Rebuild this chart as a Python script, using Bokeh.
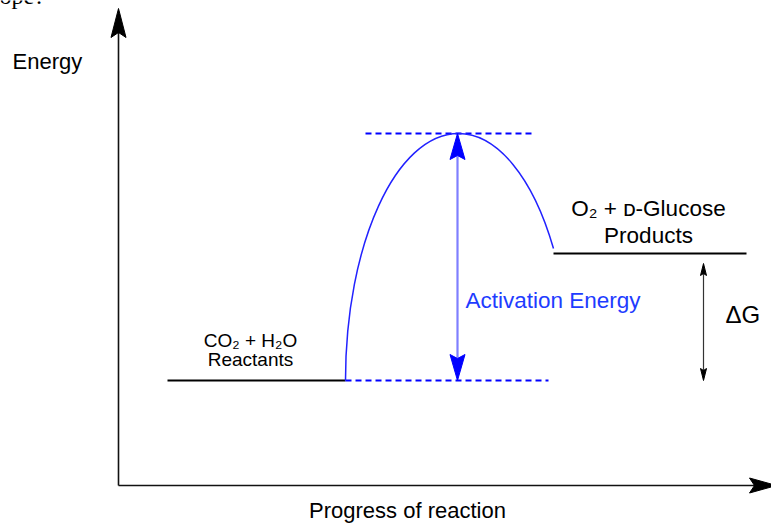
import math
from bokeh.plotting import figure
from bokeh.models import Range1d, ColumnDataSource
from bokeh.core.properties import value
from bokeh.embed import file_html
from bokeh.resources import INLINE

# ---- diagram data (progress / energy units, 1 unit = 1 px) ----
reactant_energy = 105
product_energy = 232
transition_energy = 352
transition_progress = 340
reactant_span = [49, 227]
product_span = [435, 628]
curve_end = [435, 237]          # where the barrier curve meets the product side
lower_dash_span = [227, 430]
upper_dash_span = [247, 413]
activation_x = 339
dg_x = 585
dg_span = [105, 222]
axis_top = 477
axis_right = 658

labels_text = ["Energy", "Progress of reaction", "Activation Energy",
               "CO\u2082 + H\u2082O", "Reactants", "O\u2082 + \u1d05-Glucose",
               "Products", "\u0394G", "ope?"]
labels_x = [-106, 289, 347, 132, 132, 530, 530, 607, -119]
labels_y = [424, -25, 185, 145, 126, 277, 250, 171, 490]
labels_align = ["left", "center", "left", "center", "center", "center", "center", "left", "left"]
labels_size = ["22px", "22px", "22.5px", "19px", "19px", "22.5px", "22.5px", "24px", "24px"]
labels_color = ["black", "black", "#1e3cff", "black", "black", "black", "black", "black", "black"]
labels_font = ["Liberation Sans"] * 8 + ["Liberation Serif"]

p = figure(width=771, height=523, output_backend="svg", toolbar_location=None,
           x_range=Range1d(-118, 653), y_range=Range1d(-38, 485),
           min_border=0, x_axis_location=None, y_axis_location=None)
p.grid.visible = False
p.outline_line_color = None
p.background_fill_color = "white"
p.border_fill_color = "white"


def vee(tx, ty, dx, dy, L, W, N):
    bx, by = tx - L * dx, ty - L * dy
    nx, ny = -dy, dx
    xs = [tx, bx + W / 2 * nx, bx + N * dx, bx - W / 2 * nx]
    ys = [ty, by + W / 2 * ny, by + N * dy, by - W / 2 * ny]
    return xs, ys


def arc_bezier(cx, cy, a, b, t0, t1):
    k = 4.0 / 3.0 * math.tan((t1 - t0) / 4.0)
    p0 = (cx + a * math.cos(t0), cy + b * math.sin(t0))
    p3 = (cx + a * math.cos(t1), cy + b * math.sin(t1))
    d0 = (-a * math.sin(t0), b * math.cos(t0))
    d1 = (-a * math.sin(t1), b * math.cos(t1))
    p1 = (p0[0] + k * d0[0], p0[1] + k * d0[1])
    p2 = (p3[0] - k * d1[0], p3[1] - k * d1[1])
    return p0, p1, p2, p3


# ---- axes with arrowheads ----
p.segment(x0=[0, 0], y0=[0, 0], x1=[0, axis_right - 20], y1=[axis_top - 20, 0],
          line_color="#111111", line_width=1.6)
hx1, hy1 = vee(0, axis_top, 0, 1, 29, 15, 5)
hx2, hy2 = vee(axis_right, 0, 1, 0, 27, 15, 5)
p.patches(xs=[hx1, hx2], ys=[hy1, hy2], fill_color="black", line_color="black", line_width=1)

# ---- energy levels ----
p.segment(x0=[reactant_span[0], product_span[0]], y0=[reactant_energy, product_energy],
          x1=[reactant_span[1], product_span[1]], y1=[reactant_energy, product_energy],
          line_color="black", line_width=2.2)

# ---- dashed reference lines ----
p.segment(x0=[lower_dash_span[0], upper_dash_span[0]], y0=[reactant_energy, transition_energy],
          x1=[lower_dash_span[1], upper_dash_span[1]], y1=[reactant_energy, transition_energy],
          line_color="#0000ff", line_width=2, line_dash="6 4")

# ---- barrier curve ----
b_ax = transition_energy - reactant_energy
a_left = transition_progress - reactant_span[1]
t_end = math.asin((curve_end[1] - reactant_energy) / b_ax)
a_right = (curve_end[0] - transition_progress) / math.cos(t_end)
L0 = arc_bezier(transition_progress, reactant_energy, a_left, b_ax, math.pi, math.pi / 2)
R0 = arc_bezier(transition_progress, reactant_energy, a_right, b_ax, math.pi / 2, t_end)
p.bezier(x0=[L0[0][0], R0[0][0]], y0=[L0[0][1], R0[0][1]],
         x1=[L0[3][0], R0[3][0]], y1=[L0[3][1], R0[3][1]],
         cx0=[L0[1][0], R0[1][0]], cy0=[L0[1][1], R0[1][1]],
         cx1=[L0[2][0], R0[2][0]], cy1=[L0[2][1], R0[2][1]],
         line_color="#2222ff", line_width=1.5)

# ---- activation energy arrow ----
AL = 26
p.segment(x0=[activation_x], y0=[reactant_energy + AL - 4], x1=[activation_x],
          y1=[transition_energy - AL + 4], line_color="#7f7fff", line_width=2.2)
ax1, ay1 = vee(activation_x, transition_energy, 0, 1, AL, 15, 4)
ax2, ay2 = vee(activation_x, reactant_energy, 0, -1, AL, 15, 4)
p.patches(xs=[ax1, ax2], ys=[ay1, ay2], fill_color="#0000ff", line_color="#0000ff", line_width=1)

# ---- delta G arrow ----
p.segment(x0=[dg_x], y0=[dg_span[0] + 8], x1=[dg_x], y1=[dg_span[1] - 8],
          line_color="#333333", line_width=1.2)
gx1, gy1 = vee(dg_x, dg_span[1], 0, 1, 12, 6, 2)
gx2, gy2 = vee(dg_x, dg_span[0], 0, -1, 12, 6, 2)
p.patches(xs=[gx1, gx2], ys=[gy1, gy2], fill_color="black", line_color="black", line_width=1)

# ---- labels ----
src = ColumnDataSource(dict(x=labels_x, y=labels_y, text=labels_text, align=labels_align,
                            size=labels_size, color=labels_color, font=labels_font))
p.text(x="x", y="y", text="text", source=src, text_align="align", text_font_size="size",
       text_color="color", text_baseline="alphabetic", text_font="font")

open("out.html", "w").write(file_html(p, INLINE))
